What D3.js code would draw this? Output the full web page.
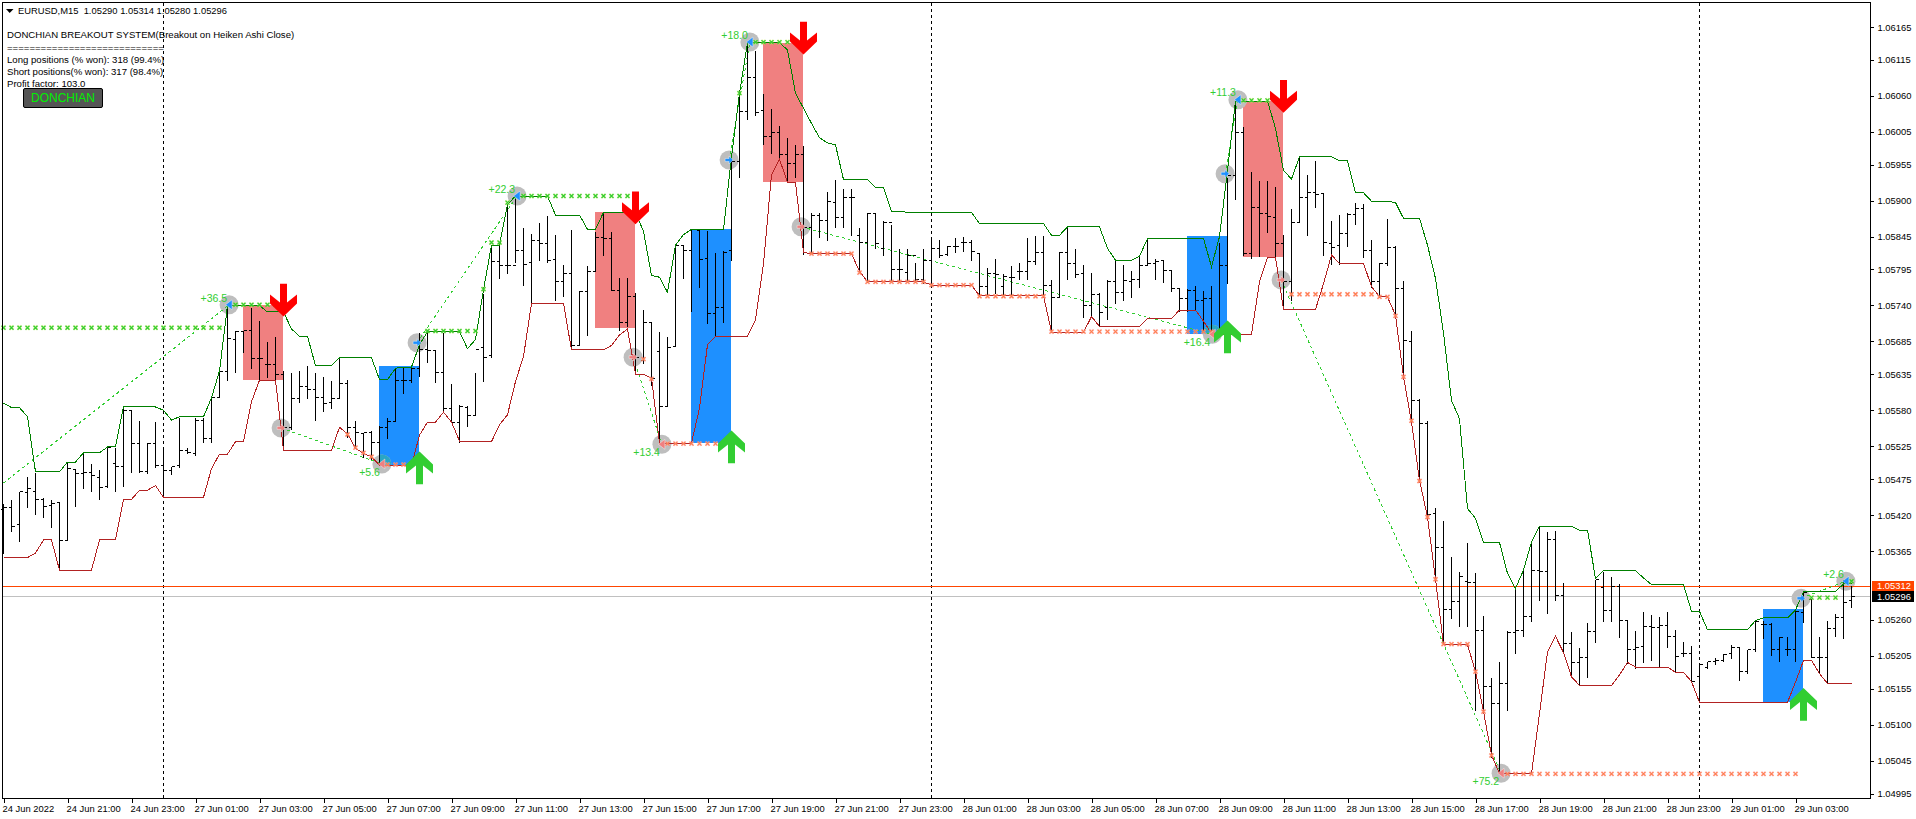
<!DOCTYPE html>
<html><head><meta charset="utf-8">
<style>html,body{margin:0;padding:0;background:#fff;overflow:hidden}svg{display:block}text{font-family:"Liberation Sans",Arial,sans-serif}</style>
<script src="https://cdnjs.cloudflare.com/ajax/libs/d3/7.8.5/d3.min.js"></script>
</head><body><svg id="c" width="1916" height="819"></svg>
<script>
// prices are in 1e-5 units (105296 = 1.05296)
const highs=[105438,105445,105457,105479,105486,105448,105445,105440,105502,105491,
105515,105500,105490,105524,105524,105585,105580,105565,105532,105563,
105524,105495,105570,105524,105570,105570,105600,105640,105740,105702,
105703,105738,105717,105686,105693,105641,105639,105641,105649,105639,
105632,105626,105660,105627,105565,105545,105550,105557,105570,105644,
105646,105646,105700,105701,105674,105699,105621,105590,105588,105639,
105759,105832,105832,105894,105904,105860,105850,105868,105878,105849,
105804,105857,105764,105802,105853,105881,105854,105784,105784,105760,
105735,105714,105701,105694,105833,105832,105856,105855,105855,105821,
105824,105972,106064,106137,106130,106065,106041,106016,105997,105987,
105985,105883,105882,105914,105933,105919,105920,105859,105883,105881,
105870,105865,105828,105828,105807,105827,105846,105841,105832,105844,
105846,105842,105820,105798,105813,105789,105802,105807,105845,105847,
105847,105781,105823,105860,105827,105803,105791,105761,105781,105809,
105803,105794,105817,105842,105812,105811,105796,105767,105766,105771,
105763,105771,105837,105936,106048,106014,105945,105932,105932,105923,
105849,105888,105966,105940,105962,105912,105871,105879,105883,105898,
105897,105842,105806,105873,105833,105779,105702,105598,105565,105432,
105412,105358,105334,105379,105333,105267,105173,105197,105245,105308,
105339,105382,105405,105396,105397,105318,105243,105219,105257,105323,
105334,105327,105316,105260,105244,105273,105269,105266,105274,105246,
105228,105222,105193,105198,105203,105210,105223,105218,105216,105260,
105260,105257,105235,105236,105277,105303,105292,105236,105260,105270,
105323,105314];
const lows=[105362,105396,105381,105432,105422,105417,105402,105337,105382,105434,
105461,105457,105444,105463,105457,105465,105486,105486,105484,105494,
105447,105483,105493,105515,105511,105532,105532,105600,105626,105639,
105669,105644,105626,105631,105626,105525,105552,105593,105598,105565,
105579,105583,105599,105539,105522,105509,105506,105496,105538,105564,
105607,105623,105632,105654,105623,105578,105562,105532,105556,105572,
105624,105662,105782,105789,105807,105771,105743,105810,105807,105749,
105754,105677,105680,105695,105792,105817,105763,105703,105708,105639,
105652,105619,105530,105586,105678,105782,105732,105768,105713,105694,
105715,105809,105936,106025,106030,105987,105973,105964,105929,105936,
105819,105820,105845,105840,105860,105860,105847,105791,105776,105827,
105817,105779,105776,105778,105776,105774,105774,105814,105817,105822,
105823,105809,105755,105758,105759,105758,105758,105781,105781,105804,
105757,105700,105755,105781,105784,105723,105724,105708,105719,105743,
105748,105753,105768,105803,105780,105776,105762,105732,105732,105733,
105702,105702,105700,105774,105903,105817,105813,105815,105852,105814,
105739,105748,105867,105847,105890,105817,105804,105804,105831,105864,
105814,105768,105753,105801,105725,105634,105565,105476,105421,105321,
105227,105263,105250,105251,105122,105120,105051,105028,105123,105210,
105236,105259,105290,105270,105290,105210,105173,105161,105173,105227,
105259,105259,105234,105194,105186,105195,105199,105188,105219,105181,
105205,105166,105134,105187,105193,105197,105202,105168,105179,105213,
105233,105206,105197,105206,105197,105257,105203,105180,105164,105236,
105233,105280];
const opens=[105430,105432,105407,105455,105457,105444,105435,105440,105382,105491,
105484,105486,105478,105464,105499,105495,105580,105530,105487,105530,
105497,105489,105496,105519,105515,105565,105538,105600,105640,105689,
105701,105703,105659,105651,105651,105635,105554,105599,105617,105612,
105600,105593,105599,105621,105554,105545,105547,105532,105555,105564,
105626,105626,105644,105673,105672,105638,105583,105562,105585,105573,
105676,105664,105808,105802,105802,105825,105806,105840,105835,105811,
105778,105790,105680,105762,105792,105844,105843,105763,105714,105755,
105657,105714,105670,105586,105678,105832,105824,105855,105812,105729,
105737,105824,105961,106037,106089,106038,105998,106004,105971,105957,
105971,105859,105878,105871,105898,105875,105906,105847,105837,105881,
105828,105868,105796,105791,105817,105780,105809,105827,105818,105830,
105837,105837,105820,105770,105789,105769,105783,105792,105792,105808,
105821,105771,105753,105821,105805,105789,105740,105757,105738,105778,
105761,105778,105780,105802,105805,105810,105794,105767,105752,105763,
105749,105752,105703,105801,105939,106004,105820,105891,105881,105875,
105836,105778,105867,105905,105913,105912,105836,105832,105850,105880,
105888,105825,105777,105805,105829,105766,105685,105595,105560,105423,
105372,105276,105289,105319,105318,105245,105159,105133,105163,105241,
105245,105266,105336,105334,105384,105298,105224,105195,105203,105243,
105310,105275,105312,105260,105215,105220,105250,105249,105252,105236,
105209,105209,105174,105188,105198,105199,105210,105218,105182,105215,
105253,105253,105216,105216,105216,105272,105292,105204,105204,105247,
105265,105290];
const closes=[105432,105404,105456,105461,105444,105434,105438,105382,105492,105484,
105485,105481,105463,105524,105495,105581,105530,105487,105530,105497,
105489,105495,105519,105516,105565,105538,105600,105640,105691,105701,
105703,105659,105659,105651,105635,105554,105599,105617,105612,105600,
105591,105599,105621,105554,105547,105547,105532,105555,105564,105626,
105626,105644,105673,105672,105638,105583,105562,105586,105573,105674,
105662,105808,105801,105802,105825,105804,105840,105835,105809,105778,
105790,105680,105762,105792,105844,105843,105763,105714,105755,105661,
105714,105629,105586,105676,105832,105824,105856,105811,105729,105737,
105822,105961,106037,106089,106036,105998,106004,105971,105957,105971,
105859,105878,105871,105899,105875,105906,105906,105837,105881,105835,
105868,105796,105796,105817,105780,105809,105827,105817,105830,105830,
105837,105823,105770,105789,105788,105785,105783,105792,105808,105821,
105771,105753,105821,105805,105788,105740,105757,105730,105778,105761,
105779,105780,105802,105805,105808,105794,105767,105751,105763,105749,
105751,105703,105802,105939,106004,105820,105891,105881,105877,105836,
105778,105867,105906,105913,105910,105837,105829,105850,105880,105888,
105824,105777,105805,105829,105766,105687,105595,105560,105421,105372,
105276,105289,105327,105318,105245,105159,105133,105163,105241,105245,
105266,105336,105334,105384,105298,105224,105195,105203,105243,105322,
105275,105312,105260,105215,105219,105250,105249,105252,105236,105205,
105209,105166,105193,105197,105199,105208,105219,105182,105215,105259,
105253,105215,105234,105216,105274,105303,105203,105204,105247,105265,
105287,105296];
const upperBand=[105591,105584,105584,105570,105486,105486,105486,105486,105501,105501,
105515,105515,105515,105524,105524,105585,105585,105585,105585,105585,
105580,105565,105570,105570,105570,105570,105599,105640,105740,105740,
105740,105740,105740,105730,105730,105730,105704,105693,105693,105648,
105648,105648,105660,105660,105660,105660,105660,105627,105627,105644,
105646,105646,105680,105700,105700,105700,105700,105700,105674,105688,
105764,105832,105832,105894,105907,105907,105907,105907,105907,105878,
105878,105878,105878,105856,105856,105882,105882,105882,105882,105882,
105853,105786,105783,105760,105832,105848,105856,105856,105856,105856,
105856,105967,106064,106141,106141,106141,106141,106141,106130,106064,
106041,106018,105996,105988,105985,105932,105932,105932,105932,105920,
105920,105884,105884,105882,105882,105882,105882,105882,105882,105882,
105882,105882,105865,105865,105865,105865,105865,105865,105865,105865,
105865,105847,105847,105860,105860,105860,105860,105860,105827,105809,
105809,105809,105815,105842,105842,105842,105842,105842,105842,105842,
105842,105799,105845,105946,106052,106052,106052,106052,106052,106010,
105946,105933,105967,105967,105967,105967,105967,105961,105961,105912,
105912,105899,105899,105899,105897,105873,105873,105873,105832,105781,
105698,105595,105567,105430,105415,105378,105378,105378,105331,105308,
105336,105379,105403,105403,105403,105403,105403,105397,105397,105323,
105335,105335,105335,105335,105335,105324,105314,105314,105314,105314,
105314,105273,105273,105245,105245,105245,105245,105245,105245,105259,
105263,105263,105263,105263,105275,105303,105303,105303,105303,105303,
105315,105315];
const lowerBand=[105355,105355,105355,105355,105362,105382,105382,105336,105336,105336,
105336,105336,105382,105382,105382,105444,105444,105458,105458,105465,
105447,105447,105447,105447,105447,105447,105491,105513,105513,105532,
105532,105593,105626,105626,105626,105519,105519,105519,105519,105519,
105519,105519,105554,105544,105522,105514,105509,105496,105496,105496,
105496,105496,105542,105562,105562,105577,105562,105533,105533,105533,
105532,105532,105558,105573,105624,105662,105743,105743,105743,105743,
105743,105672,105672,105672,105672,105672,105679,105695,105704,105635,
105635,105629,105530,105530,105530,105530,105530,105583,105680,105693,
105693,105693,105693,105693,105718,105804,105939,105963,105928,105928,
105821,105819,105819,105819,105819,105819,105819,105792,105776,105776,
105776,105776,105776,105776,105776,105776,105771,105771,105771,105771,
105771,105771,105755,105755,105755,105755,105755,105755,105755,105755,
105755,105699,105699,105699,105699,105699,105723,105708,105708,105708,
105708,105708,105708,105720,105720,105720,105720,105733,105733,105733,
105716,105697,105696,105696,105696,105696,105696,105776,105813,105813,
105734,105734,105734,105734,105734,105773,105817,105804,105804,105804,
105804,105769,105753,105753,105725,105631,105562,105473,105417,105322,
105222,105222,105222,105222,105181,105120,105054,105025,105025,105025,
105025,105025,105117,105211,105235,105210,105173,105160,105160,105160,
105160,105160,105176,105195,105188,105188,105188,105188,105188,105180,
105180,105166,105134,105134,105134,105134,105134,105134,105134,105134,
105134,105134,105134,105134,105165,105198,105198,105178,105163,105163,
105163,105163];
const priceTicks=[106165,106115,106060,106005,105955,105900,105845,105795,105740,105685,105635,105580,105525,105475,105420,105365,105260,105205,105155,105100,105045,104995];
const timeLabels=["24 Jun 2022","24 Jun 21:00","24 Jun 23:00","27 Jun 01:00","27 Jun 03:00","27 Jun 05:00","27 Jun 07:00","27 Jun 09:00","27 Jun 11:00","27 Jun 13:00","27 Jun 15:00","27 Jun 17:00","27 Jun 19:00","27 Jun 21:00","27 Jun 23:00","28 Jun 01:00","28 Jun 03:00","28 Jun 05:00","28 Jun 07:00","28 Jun 09:00","28 Jun 11:00","28 Jun 13:00","28 Jun 15:00","28 Jun 17:00","28 Jun 19:00","28 Jun 21:00","28 Jun 23:00","29 Jun 01:00","29 Jun 03:00"];
const dayBreakBars=[20,116,212];
// breakout boxes: [first bar, last bar, top, bottom]
const sellBoxes=[[30,35,105740,105626],[74,79,105882,105706],[95,100,106141,105929],[155,160,106052,105814]];
const buyBoxes=[[47,52,105647,105496],[86,91,105856,105530],[148,153,105846,105697],[220,225,105276,105134]];
// arrows: bar, tip price
const sellArrowBars=[35,79,100,160], sellArrowPrices=[105723,105864,106123,106034];
const buyArrowBars=[52,91,153,225], buyArrowPrices=[105517,105549,105717,105156];
// trade markers, bar position and price
const longOpenBars=[51.7,90.7,152.7,224.7], longOpenPrices=[105683,105962,105941,105293];
const longCloseBars=[28.2,64.2,93.3,154.3,230.3], longClosePrices=[105741,105907,106142,106054,105319], longCloseLabels=["+36.5","+22.3","+18.0","+11.3","+2.6"];
const shortOpenBars=[34.7,78.7,99.7,159.7], shortOpenPrices=[105553,105661,105860,105779];
const shortCloseBars=[47.3,82.3,151.1,187.2], shortClosePrices=[105498,105528,105696,105026], shortCloseLabels=["+5.6","+13.4","+16.4","+75.2"];
// trade links: bar1, price1, bar2, price2
const tradeLinks=[[0,105469,28.2,105741],[34.7,105553,47.3,105498],[51.7,105683,64.2,105907],[78.7,105661,82.3,105528],[90.7,105962,93.3,106142],[99.7,105860,151.1,105696],[152.7,105941,154.3,106054],[159.7,105779,187.2,105026],[224.7,105293,230.3,105319]];
// trailing crosses: first bar, last bar, price
const longRuns=[[0,27,105706],[29,34,105741],[53,59,105701],[60,60,105765],[61,62,105836],[63,63,105897],[65,78,105907],[92,92,106064],[94,99,106142],[155,159,106053],[226,229,105294],[231,231,105319]];
const shortRuns=[[43,43,105543],[44,44,105523],[45,45,105515],[46,46,105509],[48,51,105497],[80,80,105658],[81,81,105628],[83,90,105529],[101,106,105819],[107,107,105790],[108,115,105776],[116,121,105771],[122,130,105754],[131,152,105700],[161,171,105757],[172,173,105753],[174,174,105724],[175,175,105631],[176,176,105564],[177,177,105472],[178,178,105417],[179,179,105322],[180,183,105223],[184,184,105181],[185,185,105120],[186,186,105053],[188,224,105025]];
const lastPrice=105296, askPrice=105312;
const headerLine="EURUSD,M15  1.05290 1.05314 1.05280 1.05296";
const infoLines=["DONCHIAN BREAKOUT SYSTEM(Breakout on Heiken Ashi Close)","============================","Long positions (% won): 318 (99.4%)","Short positions(% won): 317 (98.4%)","Profit factor: 103.0"];
const buttonText="DONCHIAN";

const FONT=9.4;
const L=2.5,R=1870.5,T=2.5,B=798.5;
const x=d3.scaleLinear().domain([0,232]).range([3.5,1859.5]);
const y=d3.scaleLinear().domain([106165,104995]).range([27,793.5]);
const fmt=p=>(p/1e5).toFixed(5);
const svg=d3.select("#c");
const PINK="#F08080",BLUE="#1E90FF",LIME="#32CD32",GREY="#BEBEBE";

// boxes
const boxG=svg.append("g").attr("shape-rendering","crispEdges");
const boxRect=(g,d,c)=>g.append("rect").attr("x",Math.round(x(d[0])-.5)).attr("width",Math.round(x(d[1])-x(d[0]))).attr("y",y(d[2])).attr("height",y(d[3])-y(d[2])).attr("fill",c);
const clip=svg.append("defs").append("clipPath").attr("id","blueclip");
sellBoxes.forEach(d=>boxRect(boxG,d,PINK));
buyBoxes.forEach(d=>boxRect(boxG,d,BLUE));
buyBoxes.forEach(d=>boxRect(clip,d,"#000"));

// markers in circles
const markers=[];
longOpenBars.forEach((b,i)=>markers.push({b,p:longOpenPrices[i],c:BLUE,t:"r"}));
longCloseBars.forEach((b,i)=>markers.push({b,p:longClosePrices[i],c:BLUE,t:"l",lab:longCloseLabels[i],dy:-7}));
shortOpenBars.forEach((b,i)=>markers.push({b,p:shortOpenPrices[i],c:PINK,t:"r"}));
shortCloseBars.forEach((b,i)=>markers.push({b,p:shortClosePrices[i],c:PINK,t:"l",lab:shortCloseLabels[i],dy:8}));
const circ=svg.append("g");
circ.selectAll("circle").data(markers).join("circle").attr("cx",d=>x(d.b)).attr("cy",d=>y(d.p)).attr("r",9.5).attr("fill",GREY);
const circ2=svg.append("g").attr("clip-path","url(#blueclip)");
circ2.selectAll("circle").data(markers).join("circle").attr("cx",d=>x(d.b)).attr("cy",d=>y(d.p)).attr("r",9.5).attr("fill","#2BA6C4");

// frame day breaks
const dashG=svg.append("g").attr("shape-rendering","crispEdges");
dashG.selectAll("line").data(dayBreakBars).join("line").attr("x1",d=>x(d)).attr("x2",d=>x(d)).attr("y1",T).attr("y2",B).attr("stroke","#000").attr("stroke-dasharray","3,3");

// horizontal price lines
const hl=svg.append("g").attr("shape-rendering","crispEdges");
[[askPrice,"#FF4500"],[lastPrice,"#C0C0C0"]].forEach(([p,c])=>hl.append("line").attr("x1",L).attr("x2",R).attr("y1",Math.round(y(p))+.5).attr("y2",Math.round(y(p))+.5).attr("stroke",c));

// trade links
svg.append("g").attr("shape-rendering","crispEdges").selectAll("line").data(tradeLinks).join("line")
 .attr("x1",d=>x(d[0])).attr("y1",d=>y(d[1])).attr("x2",d=>x(d[2])).attr("y2",d=>y(d[3]))
 .attr("stroke",LIME).attr("stroke-width",1).attr("stroke-dasharray","3,3");

// bars
const bars=d3.range(highs.length);
const cy=p=>Math.round(y(p))+.5;
const barG=svg.append("g").attr("stroke","#000").attr("shape-rendering","crispEdges");
barG.selectAll("path").data(bars).join("path").attr("fill","none")
 .attr("d",i=>`M${x(i)},${cy(highs[i])}V${cy(lows[i])}M${x(i)-3},${cy(opens[i])}H${x(i)}M${x(i)},${cy(closes[i])}H${x(i)+3}`);

// bands
const lineGen=a=>d3.line().x((d,i)=>x(i)).y(d=>y(d))(a);
svg.append("path").attr("d",lineGen(upperBand)).attr("fill","none").attr("stroke","#008000").attr("stroke-width",1).attr("shape-rendering","crispEdges");
svg.append("path").attr("d",lineGen(lowerBand)).attr("fill","none").attr("stroke","#B22222").attr("stroke-width",1).attr("shape-rendering","crispEdges");

// crosses
const crossPts=runs=>runs.flatMap(r=>d3.range(r[0],r[1]+1).map(b=>({b,p:r[2]})));
const crossPath=d=>`M${x(d.b)-2},${y(d.p)-2}L${x(d.b)+2},${y(d.p)+2}M${x(d.b)+2},${y(d.p)-2}L${x(d.b)-2},${y(d.p)+2}`;
const drawCross=(runs,halo,c)=>{
 const g=svg.append("g").attr("fill","none");
 g.selectAll("path.h").data(crossPts(runs)).join("path").attr("class","h").attr("d",crossPath).attr("stroke",halo).attr("stroke-width",2.4).attr("stroke-opacity",.45);
 g.selectAll("path.m").data(crossPts(runs)).join("path").attr("class","m").attr("d",crossPath).attr("stroke",c).attr("stroke-width",1.2);
};
drawCross(longRuns,"#DDEE55",LIME);
drawCross(shortRuns,"#FFB0C0","#FF7F50");

// marker glyphs
const glyph=d=>{const X=x(d.b),Y=y(d.p);
 return d.t==="r"?`M${X-4},${Y-1.5}H${X}V${Y-4}L${X+4},${Y}L${X},${Y+4}V${Y+1.5}H${X-4}Z`:`M${X-3.5},${Y}L${X+3},${Y-5}V${Y+5}Z`;};
svg.append("g").selectAll("path").data(markers).join("path").attr("d",glyph).attr("fill",d=>d.c).attr("stroke","#fff").attr("stroke-width",.4);

// labels
svg.append("g").selectAll("text").data(markers.filter(d=>d.lab)).join("text")
 .attr("x",d=>x(d.b)-2).attr("y",d=>y(d.p)+d.dy).attr("dy","0.36em").attr("text-anchor","end")
 .attr("font-size",10.5).attr("fill",LIME).text(d=>d.lab);

// big arrows
const downArrow=(X,Y)=>[[-3.5,-32.7],[3.5,-32.7],[3.5,-14],[13.5,-22],[13.5,-13],[0,0],[-13.5,-13],[-13.5,-22],[-3.5,-14]].map(o=>[X+o[0],Y+o[1]].join(",")).join(" ");
const upArrow=(X,Y)=>[[-3.5,32.7],[3.5,32.7],[3.5,14],[13.5,22],[13.5,13],[0,0],[-13.5,13],[-13.5,22],[-3.5,14]].map(o=>[X+o[0],Y+o[1]].join(",")).join(" ");
svg.append("g").selectAll("polygon").data(sellArrowBars).join("polygon").attr("points",(b,i)=>downArrow(x(b),y(sellArrowPrices[i]))).attr("fill","#FF0000");
svg.append("g").selectAll("polygon").data(buyArrowBars).join("polygon").attr("points",(b,i)=>upArrow(x(b),y(buyArrowPrices[i]))).attr("fill",LIME);

// frame
svg.append("rect").attr("x",L).attr("y",T).attr("width",R-L).attr("height",B-T).attr("fill","none").attr("stroke","#000").attr("shape-rendering","crispEdges");

// axes
const yAxis=d3.axisRight(y).tickValues(priceTicks).tickFormat(fmt).tickSize(3).tickPadding(4);
const gy=svg.append("g").attr("transform",`translate(${R},0)`).call(yAxis);
const xAxis=d3.axisBottom(x).tickValues(timeLabels.map((_,i)=>i*8)).tickFormat((d,i)=>timeLabels[i]).tickSize(4).tickPadding(3);
const gx=svg.append("g").attr("transform",`translate(0,${B})`).call(xAxis);
[gy,gx].forEach(g=>{g.select(".domain").remove();g.selectAll("line").attr("stroke","#000").attr("shape-rendering","crispEdges");g.selectAll("text").attr("font-family",'"Liberation Sans",Arial,sans-serif').attr("font-size",FONT).attr("fill","#000");});
gx.selectAll("text").attr("text-anchor","start").attr("x",-1.5);

// price tags
[[askPrice,"#FF4500","#fff"],[lastPrice,"#000","#fff"]].forEach(([p,bg,fg])=>{
 const Y=y(p);
 svg.append("rect").attr("x",1872).attr("y",Math.round(Y)-5.5).attr("width",42).attr("height",11.5).attr("fill",bg).attr("shape-rendering","crispEdges");
 svg.append("text").attr("x",1877).attr("y",Y).attr("dy","0.36em").attr("font-size",FONT).attr("fill",fg).text(fmt(p));
});

// header
svg.append("path").attr("d","M6,9H13.5L9.7,13Z").attr("fill","#000");
svg.append("text").attr("x",18).attr("y",14).attr("font-size",FONT).attr("xml:space","preserve").style("white-space","pre").text(headerLine);
const infoY=[37.8,50.5,62.8,74.8,86.5];
svg.append("g").selectAll("text").data(infoLines).join("text").attr("x",7).attr("y",(d,i)=>infoY[i]).attr("font-size",9.6).attr("fill","#000").text(d=>d);
svg.append("rect").attr("x",23.5).attr("y",88.5).attr("width",79).attr("height",19).attr("rx",1.5).attr("fill","#555").attr("stroke","#000");
svg.append("text").attr("x",63).attr("y",98).attr("dy","0.36em").attr("text-anchor","middle").attr("font-size",12).attr("fill","#00F000").text(buttonText);
</script></body></html>
